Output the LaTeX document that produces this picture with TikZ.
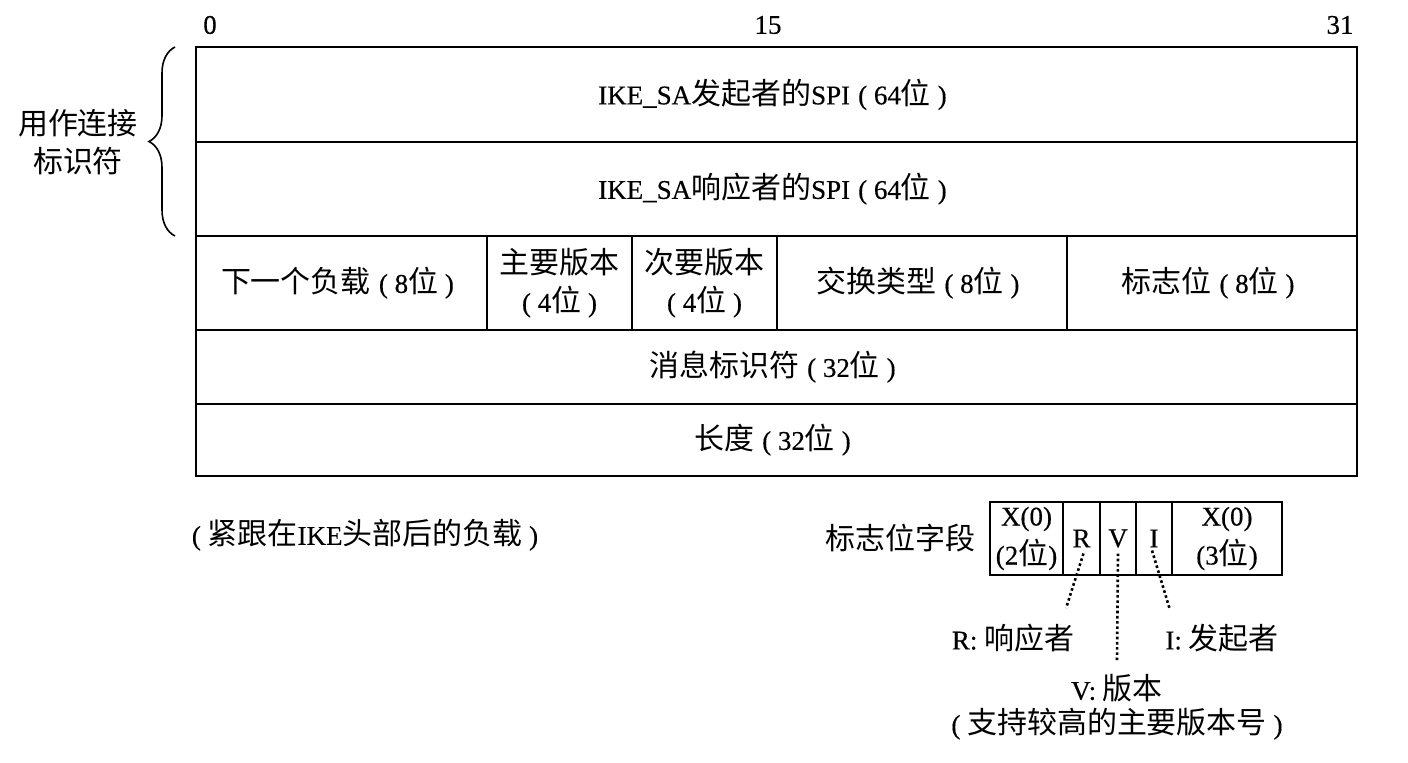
\documentclass[tikz,border=0pt]{standalone}
\usepackage{fontspec}
\setmainfont[FakeBold=0.4]{Liberation Serif}
\newfontfamily\cjk[Scale=1.11]{Noto Sans CJK SC}
\usetikzlibrary{positioning,decorations.pathreplacing}
\newcommand{\zh}[1]{{\cjk #1}}
\newcommand{\lpar}{\kern0.3em(\kern0.25em}
\newcommand{\rpar}{\kern0.25em)\kern0.3em}

\begin{document}
\begin{tikzpicture}[
        x=0.5pt, y=-0.5pt,
        every node/.style={align=center, inner sep=0pt, outer sep=0pt, font=\fontsize{13.5}{19}\selectfont},
        every path/.style={line width=0.8pt},
        field/.style 2 args={draw, minimum width=#1, minimum height=#2},
        flagbit/.style={draw, minimum width=#1, minimum height=36.5pt},
        link/.style={line width=1.3pt, dash pattern=on 1.3pt off 1.3pt}
    ]

    \useasboundingbox (0,0) rectangle (1408,762);

    % Header rows
    \node[field={580.5pt}{47.5pt}] (spi1) at (776.5,94.5) {IKE\_SA\zh{发起者的}SPI\lpar 64\zh{位}\rpar};
    \node[field={580.5pt}{47pt}, below=0pt of spi1] (spi2) {IKE\_SA\zh{响应者的}SPI\lpar 64\zh{位}\rpar};
    \node[field={145.5pt}{47pt}, below right=0pt and 0pt of spi2.south west] (next) {\zh{下一个负载}\lpar 8\zh{位}\rpar};
    \node[field={72.5pt}{47pt}, right=0pt of next] (major) {\zh{主要版本}\\\lpar 4\zh{位}\rpar};
    \node[field={72.5pt}{47pt}, right=0pt of major] (minor) {\zh{次要版本}\\\lpar 4\zh{位}\rpar};
    \node[field={145pt}{47pt}, right=0pt of minor] (exch) {\zh{交换类型}\lpar 8\zh{位}\rpar};
    \node[field={145pt}{47pt}, right=0pt of exch] (flags) {\zh{标志位}\lpar 8\zh{位}\rpar};
    \node[field={580.5pt}{37pt}, below right=0pt and 0pt of next.south west] (msgid) {\zh{消息标识符}\lpar 32\zh{位}\rpar};
    \node[field={580.5pt}{36pt}, below=0pt of msgid] (len) {\zh{长度}\lpar 32\zh{位}\rpar};

    % Bit numbers
    \node (b0) at (210,25) {0};
    \node (b15) at (768,25) {15};
    \node (b31) at (1340,25) {31};

    % Connection identifier
    \draw[decorate, decoration={brace, amplitude=13pt}] ([xshift=-10.5pt]spi2.south west) -- ([xshift=-10.5pt]spi1.north west);
    \node (connid) at (78,142) {\zh{用作连接}\\\zh{标识符}};

    \node (after) at (365,535) {\lpar\zh{紧跟在}IKE\zh{头部后的负载}\rpar};

    % Flags field
    \node[flagbit=36.5pt, font=\fontsize{13.5}{19.5}\selectfont] (fx1) at (1026.5,538.5) {X(0)\\(2\zh{位})};
    \node[flagbit=18.5pt, right=0pt of fx1] (fR) {R};
    \node[flagbit=18pt, right=0pt of fR] (fV) {V};
    \node[flagbit=18pt, right=0pt of fV] (fI) {I};
    \node[flagbit=55pt, right=0pt of fI, font=\fontsize{13.5}{19.5}\selectfont] (fx2) {X(0)\\(3\zh{位})};
    \node[left=7.5pt of fx1] (flagname) {\zh{标志位字段}};

    \node (lR) at (1013,638) {R: \zh{响应者}};
    \node (lI) at (1222,638) {I: \zh{发起者}};
    \node[font=\fontsize{13.5}{17}\selectfont] (lV) at (1117,707) {V: \zh{版本}\\\lpar\zh{支持较高的主要版本号}\rpar};

    % Links
    \draw[link] ([xshift=1pt,yshift=-7.5pt]fR.center) -- ([xshift=-4pt,yshift=8pt]lR.north east);
    \draw[link] ([yshift=-7.5pt]fV.center) -- ([yshift=7pt]lV.north);
    \draw[link] ([xshift=-1pt,yshift=-6pt]fI.center) -- ([xshift=2pt,yshift=8pt]lI.north west);

\end{tikzpicture}
\end{document}
